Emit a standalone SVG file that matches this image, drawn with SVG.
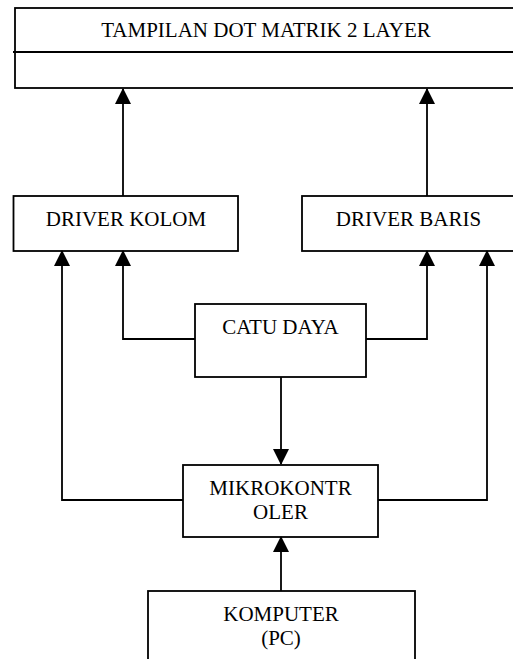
<svg xmlns="http://www.w3.org/2000/svg" width="513" height="659" viewBox="0 0 513 659">
<style>
  .box { fill: #ffffff; stroke: #000000; stroke-width: 1.8; }
  .conn { fill: none; stroke: #000000; stroke-width: 1.8; }
  .lbl { font-family: "Liberation Serif", "Times New Roman", serif; font-size: 21px; fill: #000000; text-anchor: middle; }
</style>
<defs>
  <marker id="arr" viewBox="0 0 16 16" refX="15" refY="8" markerWidth="16" markerHeight="16" markerUnits="userSpaceOnUse" orient="auto">
    <path d="M0,0 L16,8 L0,16 Z" fill="#000000"/>
  </marker>
</defs>
<rect width="513" height="659" fill="#ffffff"/>
<g id="tampilan">
  <rect class="box" x="15" y="8" width="520" height="80"/>
  <line class="conn" x1="13" y1="52" x2="513" y2="52"/>
  <text class="lbl" x="266" y="37">TAMPILAN DOT MATRIK 2 LAYER</text>
</g>
<g id="driver-kolom">
  <rect class="box" x="13.5" y="196" width="224.5" height="55"/>
  <text class="lbl" x="126" y="226">DRIVER KOLOM</text>
</g>
<g id="driver-baris">
  <rect class="box" x="302" y="196" width="230" height="55"/>
  <text class="lbl" x="408.5" y="226">DRIVER BARIS</text>
</g>
<g id="catu-daya">
  <rect class="box" x="195" y="304" width="171" height="73"/>
  <text class="lbl" x="280.5" y="334">CATU DAYA</text>
</g>
<g id="mikrokontroler">
  <rect class="box" x="183" y="465" width="195" height="72"/>
  <text class="lbl" x="280.5" y="495">MIKROKONTR</text>
  <text class="lbl" x="280.5" y="519">OLER</text>
</g>
<g id="komputer">
  <rect class="box" x="148" y="591" width="267" height="90"/>
  <text class="lbl" x="281" y="621">KOMPUTER</text>
  <text class="lbl" x="281" y="645">(PC)</text>
</g>
<g id="connectors">
  <path class="conn" d="M123,196 V89" marker-end="url(#arr)"/>
  <path class="conn" d="M427,196 V89" marker-end="url(#arr)"/>
  <path class="conn" d="M195,339 H123 V251" marker-end="url(#arr)"/>
  <path class="conn" d="M366,339 H427 V251" marker-end="url(#arr)"/>
  <path class="conn" d="M281,377 V464" marker-end="url(#arr)"/>
  <path class="conn" d="M183,500 H62 V251" marker-end="url(#arr)"/>
  <path class="conn" d="M378,500 H487 V251" marker-end="url(#arr)"/>
  <path class="conn" d="M281,591 V537" marker-end="url(#arr)"/>
</g>
</svg>
